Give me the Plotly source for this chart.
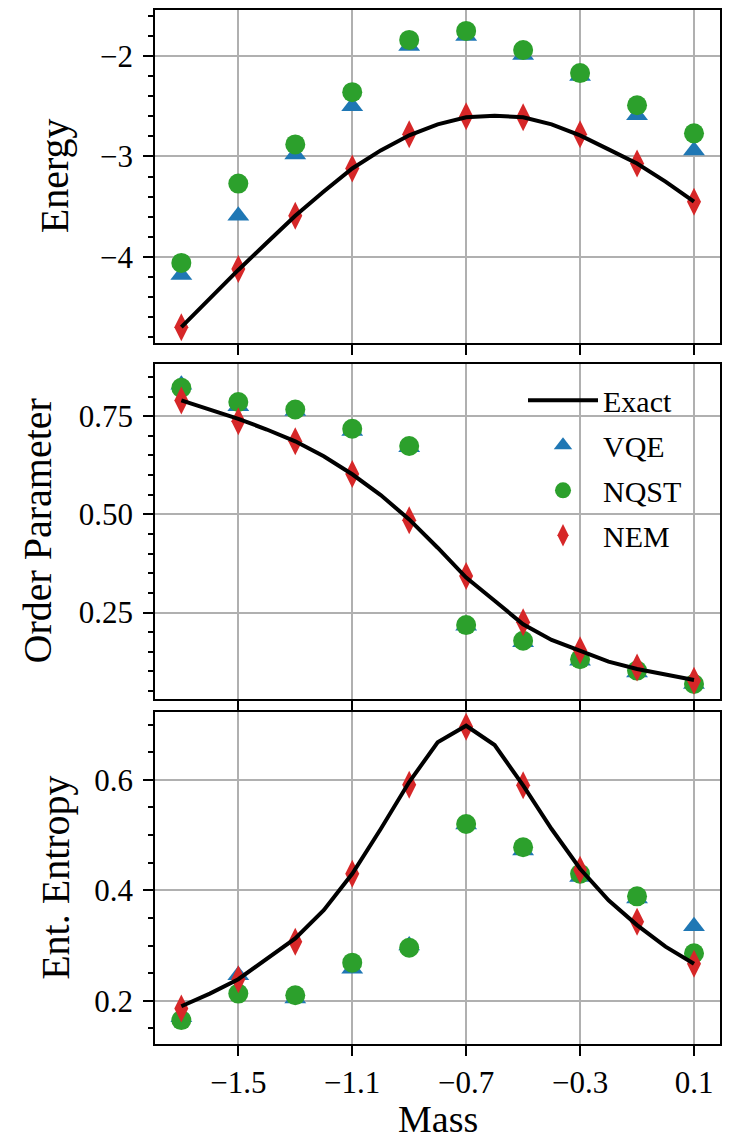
import plotly.graph_objects as go
from plotly.subplots import make_subplots

# ---------------- data ----------------
mass = [-1.7, -1.5, -1.3, -1.1, -0.9, -0.7, -0.5, -0.3, -0.1, 0.1]
mass_exact = [-1.7, -1.6, -1.5, -1.4, -1.3, -1.2, -1.1, -1.0, -0.9, -0.8,
              -0.7, -0.6, -0.5, -0.4, -0.3, -0.2, -0.1, 0.0, 0.1]

energy_exact = [-4.70, -4.41, -4.13, -3.86, -3.59, -3.35, -3.12, -2.94, -2.79, -2.68,
                -2.61, -2.595, -2.61, -2.68, -2.79, -2.93, -3.07, -3.25, -3.45]
energy_vqe = [-4.18, -3.59, -2.98, -2.50, -1.90, -1.80, -1.99, -2.20, -2.59, -2.94]
energy_nqst = [-4.06, -3.27, -2.88, -2.36, -1.84, -1.75, -1.94, -2.17, -2.49, -2.77]
energy_nem = [-4.70, -4.12, -3.59, -3.12, -2.78, -2.60, -2.61, -2.78, -3.07, -3.45]

order_exact = [0.790, 0.767, 0.743, 0.716, 0.686, 0.648, 0.602, 0.549, 0.487, 0.415,
               0.339, 0.280, 0.220, 0.180, 0.153, 0.125, 0.106, 0.093, 0.078]
order_vqe = [0.830, 0.775, 0.763, 0.712, 0.671, 0.216, 0.174, 0.127, 0.097, 0.068]
order_nqst = [0.822, 0.786, 0.767, 0.718, 0.674, 0.218, 0.178, 0.131, 0.102, 0.068]
order_nem = [0.790, 0.737, 0.686, 0.603, 0.485, 0.343, 0.225, 0.154, 0.110, 0.076]

entropy_exact = [0.190, 0.213, 0.239, 0.277, 0.313, 0.364, 0.430, 0.511, 0.596, 0.668,
                 0.698, 0.663, 0.590, 0.511, 0.439, 0.382, 0.337, 0.298, 0.267]
entropy_vqe = [0.170, 0.246, 0.204, 0.258, 0.300, 0.519, 0.472, 0.424, 0.385, 0.335]
entropy_nqst = [0.165, 0.213, 0.210, 0.269, 0.296, 0.520, 0.478, 0.430, 0.389, 0.286]
entropy_nem = [0.186, 0.239, 0.307, 0.430, 0.591, 0.696, 0.590, 0.437, 0.343, 0.267]

x_tickvals = [-1.5, -1.1, -0.7, -0.3, 0.1]
x_ticktext = ["\u22121.5", "\u22121.1", "\u22120.7", "\u22120.3", "0.1"]
energy_tickvals = [-4, -3, -2]
energy_ticktext = ["\u22124", "\u22123", "\u22122"]
order_tickvals = [0.25, 0.50, 0.75]
order_ticktext = ["0.25", "0.50", "0.75"]
entropy_tickvals = [0.2, 0.4, 0.6]
entropy_ticktext = ["0.2", "0.4", "0.6"]

y_titles = ["Energy", "Order Parameter", "Ent. Entropy"]
x_title = "Mass"
series_names = ["Exact", "VQE", "NQST", "NEM"]

# ---------------- styling ----------------
FONT = "Liberation Serif"
BLUE, GREEN, RED = "#1f77b4", "#2ca02c", "#d62728"

fig = make_subplots(rows=3, cols=1, shared_xaxes=True)

panels = [
    (energy_exact, energy_vqe, energy_nqst, energy_nem),
    (order_exact, order_vqe, order_nqst, order_nem),
    (entropy_exact, entropy_vqe, entropy_nqst, entropy_nem),
]

for i, (ex, vqe, nqst, nem) in enumerate(panels):
    row = i + 1
    show = (i == 1)
    fig.add_trace(go.Scatter(x=mass, y=vqe, mode="markers", name=series_names[1],
                             marker=dict(symbol="triangle-up", size=19, color=BLUE),
                             showlegend=show, legendrank=2, legendgroup="vqe"), row=row, col=1)
    fig.add_trace(go.Scatter(x=mass, y=nqst, mode="markers", name=series_names[2],
                             marker=dict(symbol="circle", size=20, color=GREEN),
                             showlegend=show, legendrank=3, legendgroup="nqst"), row=row, col=1)
    fig.add_trace(go.Scatter(x=mass, y=nem, mode="markers", name=series_names[3],
                             marker=dict(symbol="diamond-tall", size=20, color=RED),
                             showlegend=show, legendrank=4, legendgroup="nem"), row=row, col=1)
    fig.add_trace(go.Scatter(x=mass_exact, y=ex, mode="lines", name=series_names[0],
                             line=dict(color="black", width=4),
                             showlegend=show, legendrank=1, legendgroup="exact"), row=row, col=1)

# The page places the figure 8px from the top-left corner (body margin).
OFF = 8
PAGE_W, PAGE_H = 733, 1141
W, H = PAGE_W - OFF, PAGE_H - OFF
# desired plot-area edges in page pixels
left_px, right_px, top_px, bottom_px = 155, 720, 7, 1044
ml = left_px - OFF
mr = PAGE_W - right_px
mt = max(top_px - OFF, 0)
mb = PAGE_H - bottom_px
plot_h = H - mt - mb
plot_w = W - ml - mr
plot_bottom_page = OFF + mt + plot_h


def pfrac(ypx):
    return (plot_bottom_page - ypx) / plot_h


def xfrac(xpx):
    return (xpx - (OFF + ml)) / plot_w


domains = [
    [pfrac(342), 1.0],
    [pfrac(698), pfrac(363)],
    [0.0, pfrac(711)],
]

axis_common = dict(
    showline=True, linecolor="black", linewidth=1.5, mirror=True,
    ticks="outside", ticklen=10, tickwidth=1.5, tickcolor="black",
    showgrid=True, gridcolor="#b0b0b0", gridwidth=1.5,
    zeroline=False,
    tickfont=dict(family=FONT, size=31, color="black"),
)

for i in range(3):
    xa = "xaxis" if i == 0 else f"xaxis{i+1}"
    fig.layout[xa].update(
        **axis_common,
        range=[-1.7925, 0.1913],
        tickmode="array", tickvals=x_tickvals, ticktext=x_ticktext,
        showticklabels=(i == 2),
        ticklabelstandoff=0,
    )

ya_specs = [
    ([-4.861, -1.542], energy_tickvals, energy_ticktext, 0.2),
    ([0.0306, 0.882], order_tickvals, order_ticktext, 0.05),
    ([0.1217, 0.7235], entropy_tickvals, entropy_ticktext, 0.05),
]
for i, (rng, tv, tt, mdt) in enumerate(ya_specs):
    ya = "yaxis" if i == 0 else f"yaxis{i+1}"
    fig.layout[ya].update(
        **axis_common,
        domain=domains[i],
        range=rng,
        tickmode="array", tickvals=tv, ticktext=tt,
        ticklabelstandoff=4,
        minor=dict(ticks="outside", ticklen=5, tickwidth=1.5, tickcolor="black",
                   dtick=mdt, tick0=0, showgrid=False),
    )

title_pos = [(54, 174.5), (37, 530.5), (56, 877.5)]
for t, (xp, yp) in zip(y_titles, title_pos):
    fig.add_annotation(text=t, xref="paper", yref="paper", x=xfrac(xp), y=pfrac(yp),
                       xanchor="center", yanchor="middle", textangle=-90, showarrow=False,
                       font=dict(family=FONT, size=40, color="black"))
fig.add_annotation(text=x_title, xref="paper", yref="paper", x=0.5, y=pfrac(1141),
                   xanchor="center", yanchor="bottom", showarrow=False, borderpad=0,
                   font=dict(family=FONT, size=38, color="black"))

fig.update_layout(
    width=W, height=H,
    margin=dict(l=ml, r=mr, t=mt, b=mb),
    paper_bgcolor="white", plot_bgcolor="white",
    font=dict(family=FONT, color="black"),
    legend=dict(
        x=xfrac(523), y=pfrac(373), xanchor="left", yanchor="top",
        bgcolor="rgba(0,0,0,0)", borderwidth=0,
        font=dict(family=FONT, size=30, color="black"),
        traceorder="grouped", tracegroupgap=3,
        itemwidth=70,
    ),
)

fig.write_html("out.html")
